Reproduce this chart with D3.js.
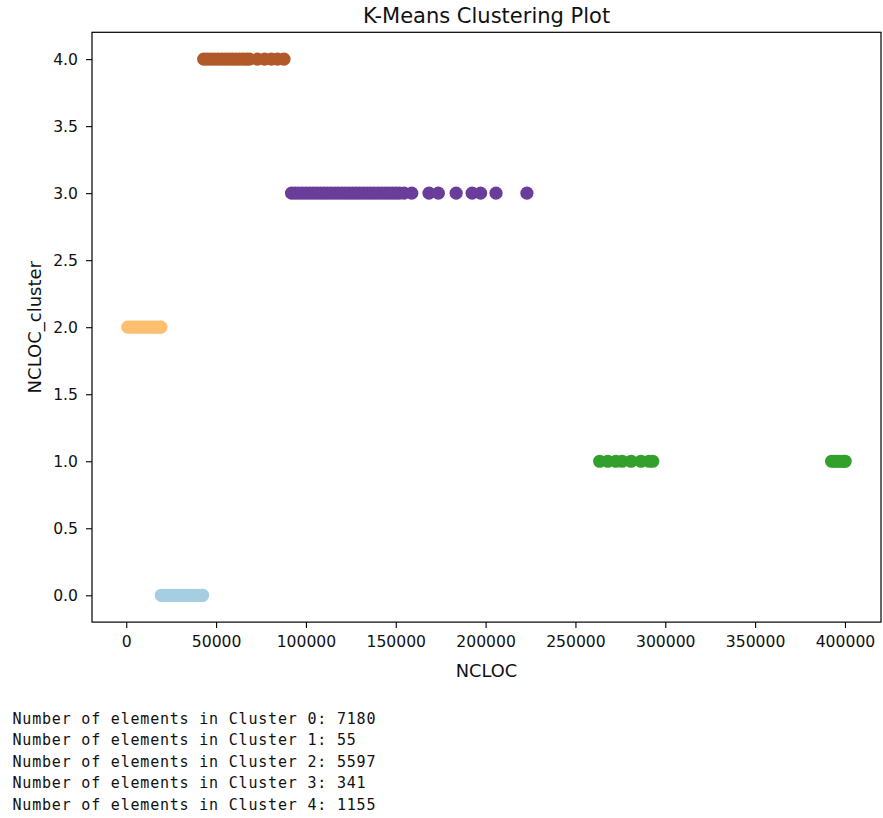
<!DOCTYPE html>
<html>
<head>
<meta charset="utf-8">
<script src="https://cdn.jsdelivr.net/npm/d3@7"></script>
<style>
  body { margin: 0; background: #fff; }
  svg { display: block; }
</style>
</head>
<body>
<svg id="chart" width="883" height="818"></svg>
<script>
// ---------------- data ----------------
const clusterIds = [0, 1, 2, 3, 4];
const clusterColors = ["#a6cee3", "#33a02c", "#fdbf6f", "#6a3d9a", "#b15928"];

// NCLOC values, per cluster
const cluster0 = [19500, 21000, 22500, 24000, 25500, 27000, 28500, 30000, 31500, 33000,
                  34500, 36000, 37500, 39000, 40500, 42000, 42500];
const cluster1 = [263500, 268000, 272500, 276000, 281000, 286500, 291000, 293000,
                  392600, 394000, 395500, 397000, 398500, 399500, 400100];
const cluster2 = [900, 2500, 4000, 5500, 7000, 8500, 10000, 11500, 13000, 14500,
                  16000, 17500, 19000, 19300];
const cluster3 = [92000, 94000, 96000, 98000, 100000, 102000, 104000, 106000, 108000,
                  110000, 112000, 114000, 116000, 118000, 120000, 122000, 124000, 126000,
                  128000, 130000, 132000, 134000, 136000, 138000, 140000, 142000, 144000,
                  146000, 148000, 150000, 152000, 154600, 158900, 168500, 173700, 183600,
                  192500, 197200, 205800, 223000];
const cluster4 = [43100, 45000, 47000, 49000, 51000, 53000, 55000, 57000, 59000, 61000,
                  63000, 65000, 67000, 68600, 73000, 77000, 80800, 84200, 87800];

const clusterValues = [cluster0, cluster1, cluster2, cluster3, cluster4];
const clusterCounts = [7180, 55, 5597, 341, 1155];

const xTicks = [0, 50000, 100000, 150000, 200000, 250000, 300000, 350000, 400000];
const yTicks = [0.0, 0.5, 1.0, 1.5, 2.0, 2.5, 3.0, 3.5, 4.0];

const titleText = "K-Means Clustering Plot";
const xLabel = "NCLOC";
const yLabel = "NCLOC_cluster";

// ---------------- layout ----------------
const svg = d3.select("#chart");
const plot = { left: 92, right: 881, top: 32.3, bottom: 622.1 };
const FONT = "'DejaVu Sans', sans-serif";

const allX = clusterValues.flat();
const xMin = d3.min(allX), xMax = d3.max(allX);
const xPad = (xMax - xMin) * 0.05;
const x = d3.scaleLinear().domain([xMin - xPad, xMax + xPad]).range([plot.left, plot.right]);
const y = d3.scaleLinear().domain([-0.2, 4.2]).range([plot.bottom, plot.top]);

// points
const points = [];
clusterIds.forEach((c, i) => clusterValues[i].forEach(v => points.push({ c, v })));

svg.append("g")
  .selectAll("circle")
  .data(points)
  .enter().append("circle")
  .attr("cx", d => x(d.v))
  .attr("cy", d => y(d.c))
  .attr("r", 6.6)
  .attr("fill", d => clusterColors[d.c]);

// axes
const xAxis = svg.append("g")
  .attr("transform", `translate(0,${plot.bottom})`)
  .call(d3.axisBottom(x).tickValues(xTicks).tickFormat(d3.format("d")).tickSize(6).tickPadding(8));
const yAxis = svg.append("g")
  .attr("transform", `translate(${plot.left},0)`)
  .call(d3.axisLeft(y).tickValues(yTicks).tickFormat(d3.format(".1f")).tickSize(6).tickPadding(8));

[xAxis, yAxis].forEach(g => {
  g.select(".domain").remove();
  g.selectAll(".tick line").attr("stroke", "#000").attr("stroke-width", 1.1);
  g.selectAll(".tick text").attr("font-family", FONT).attr("font-size", 15.6).attr("fill", "#111");
});

// frame
svg.append("rect")
  .attr("x", plot.left).attr("y", plot.top)
  .attr("width", plot.right - plot.left).attr("height", plot.bottom - plot.top)
  .attr("fill", "none").attr("stroke", "#000").attr("stroke-width", 1.2);

// title + labels
svg.append("text")
  .attr("x", (plot.left + plot.right) / 2).attr("y", 22.5)
  .attr("text-anchor", "middle").attr("font-family", FONT).attr("font-size", 21)
  .attr("fill", "#111").text(titleText);

svg.append("text")
  .attr("x", (plot.left + plot.right) / 2).attr("y", 676.5)
  .attr("text-anchor", "middle").attr("font-family", FONT).attr("font-size", 17.8)
  .attr("fill", "#111").text(xLabel);

svg.append("text")
  .attr("transform", `translate(41,${(plot.top + plot.bottom) / 2}) rotate(-90)`)
  .attr("text-anchor", "middle").attr("font-family", FONT).attr("font-size", 18)
  .attr("fill", "#111").text(yLabel);

// console output
svg.append("g")
  .selectAll("text")
  .data(clusterIds)
  .enter().append("text")
  .attr("x", 12.5)
  .attr("y", (d, i) => 724 + i * 21.4)
  .attr("font-family", "'DejaVu Sans Mono', monospace")
  .attr("font-size", 15)
  .attr("letter-spacing", 0.8)
  .attr("fill", "#111")
  .text(d => `Number of elements in Cluster ${d}: ${clusterCounts[d]}`);
</script>
</body>
</html>
